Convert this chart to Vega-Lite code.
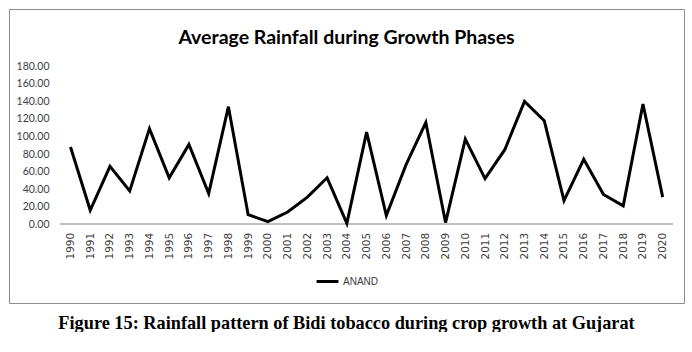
{
  "$schema": "https://vega.github.io/schema/vega-lite/v6.json",
  "padding": {"left": 8, "top": 8, "right": 9, "bottom": 0},
  "background": "white",
  "title": {
    "text": "Figure 15: Rainfall pattern of Bidi tobacco during crop growth at Gujarat",
    "orient": "bottom",
    "anchor": "middle",
    "font": "Liberation Serif",
    "fontSize": 18.3,
    "fontWeight": "bold",
    "color": "black",
    "offset": 11
  },
  "config": {
    "view": {"stroke": "#8c8c8c", "strokeWidth": 1},
    "axis": {
      "ticks": false,
      "tickSize": 0,
      "domain": false,
      "grid": false,
      "labelOverlap": false,
      "labelBound": false,
      "labelFlush": false,
      "labelColor": "#404040",
      "title": null
    }
  },
  "vconcat": [
    {
      "width": 675,
      "height": 294,
      "title": {
        "text": "Average Rainfall during Growth Phases",
        "anchor": "middle",
        "font": "Lato",
        "fontSize": 19.5,
        "fontWeight": "bold",
        "color": "black",
        "offset": -39
      },
      "data": {
        "values": [
          {"year": 1990, "rain": 88, "station": "ANAND"},
          {"year": 1991, "rain": 16, "station": "ANAND"},
          {"year": 1992, "rain": 66, "station": "ANAND"},
          {"year": 1993, "rain": 38, "station": "ANAND"},
          {"year": 1994, "rain": 109, "station": "ANAND"},
          {"year": 1995, "rain": 53, "station": "ANAND"},
          {"year": 1996, "rain": 91, "station": "ANAND"},
          {"year": 1997, "rain": 35, "station": "ANAND"},
          {"year": 1998, "rain": 134, "station": "ANAND"},
          {"year": 1999, "rain": 11, "station": "ANAND"},
          {"year": 2000, "rain": 3, "station": "ANAND"},
          {"year": 2001, "rain": 14, "station": "ANAND"},
          {"year": 2002, "rain": 31, "station": "ANAND"},
          {"year": 2003, "rain": 53, "station": "ANAND"},
          {"year": 2004, "rain": 1, "station": "ANAND"},
          {"year": 2005, "rain": 105, "station": "ANAND"},
          {"year": 2006, "rain": 10, "station": "ANAND"},
          {"year": 2007, "rain": 68, "station": "ANAND"},
          {"year": 2008, "rain": 116, "station": "ANAND"},
          {"year": 2009, "rain": 2, "station": "ANAND"},
          {"year": 2010, "rain": 97, "station": "ANAND"},
          {"year": 2011, "rain": 52, "station": "ANAND"},
          {"year": 2012, "rain": 85, "station": "ANAND"},
          {"year": 2013, "rain": 140, "station": "ANAND"},
          {"year": 2014, "rain": 118, "station": "ANAND"},
          {"year": 2015, "rain": 27, "station": "ANAND"},
          {"year": 2016, "rain": 74, "station": "ANAND"},
          {"year": 2017, "rain": 34, "station": "ANAND"},
          {"year": 2018, "rain": 21, "station": "ANAND"},
          {"year": 2019, "rain": 137, "station": "ANAND"},
          {"year": 2020, "rain": 31, "station": "ANAND"}
        ]
      },
      "layer": [
        {
          "mark": {"type": "rule", "color": "#bfbfbf", "strokeWidth": 1.5},
          "encoding": {
            "x": {
              "datum": 1989.5,
              "type": "quantitative",
              "scale": {"domain": [1986.885, 2021.079], "nice": false, "zero": false},
              "axis": {
                "values": [1990,1991,1992,1993,1994,1995,1996,1997,1998,1999,2000,2001,2002,2003,2004,2005,2006,2007,2008,2009,2010,2011,2012,2013,2014,2015,2016,2017,2018,2019,2020],
                "format": "d",
                "labelAngle": -90,
                "labelFont": "DejaVu Sans",
                "labelFontSize": 10.5,
                "labelPadding": 8,
                "offset": -78.7
              }
            },
            "x2": {"datum": 2020.5},
            "y": {
              "datum": 0,
              "type": "quantitative",
              "scale": {"domain": [-89.66, 245.3], "nice": false, "zero": false},
              "axis": {
                "values": [0,20,40,60,80,100,120,140,160,180],
                "format": ".2f",
                "labelFont": "Lato",
                "labelFontSize": 10.5,
                "labelPadding": 0,
                "offset": -40
              }
            }
          }
        },
        {
          "mark": {"type": "line", "strokeWidth": 3, "strokeJoin": "miter"},
          "encoding": {
            "x": {
              "field": "year",
              "type": "quantitative",
              "scale": {"domain": [1986.885, 2021.079], "nice": false, "zero": false},
              "axis": {
                "values": [1990,1991,1992,1993,1994,1995,1996,1997,1998,1999,2000,2001,2002,2003,2004,2005,2006,2007,2008,2009,2010,2011,2012,2013,2014,2015,2016,2017,2018,2019,2020],
                "format": "d",
                "labelAngle": -90,
                "labelFont": "DejaVu Sans",
                "labelFontSize": 10.5,
                "labelPadding": 8,
                "offset": -78.7
              }
            },
            "y": {
              "field": "rain",
              "type": "quantitative",
              "scale": {"domain": [-89.66, 245.3], "nice": false, "zero": false},
              "axis": {
                "values": [0,20,40,60,80,100,120,140,160,180],
                "format": ".2f",
                "labelFont": "Lato",
                "labelFontSize": 10.5,
                "labelPadding": 0,
                "offset": -40
              }
            },
            "color": {
              "field": "station",
              "type": "nominal",
              "scale": {"range": ["black"]},
              "legend": {
                "title": null,
                "orient": "none",
                "legendX": 306,
                "legendY": 260,
                "direction": "horizontal",
                "symbolType": "stroke",
                "symbolStrokeWidth": 3,
                "symbolSize": 480,
                "labelFont": "Liberation Sans",
                "labelFontSize": 10,
                "labelColor": "#404040",
                "labelOffset": 3
              }
            }
          }
        }
      ]
    }
  ]
}
